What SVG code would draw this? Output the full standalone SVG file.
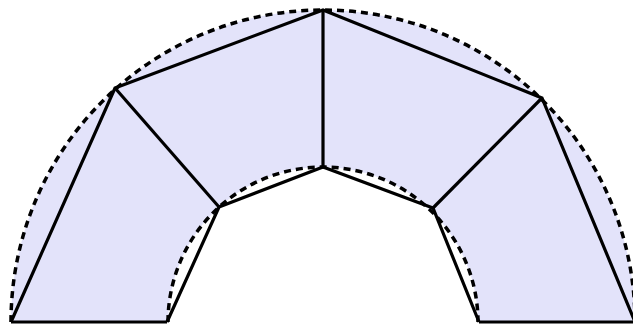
<svg xmlns="http://www.w3.org/2000/svg" width="633" height="324" viewBox="0 0 633 324">
  <style>
    .fill { fill: #e3e3fa; stroke: none; }
    .dash { fill: none; stroke: #000; stroke-width: 3.5; stroke-dasharray: 7 5; }
    .edge { fill: none; stroke: #000; stroke-width: 3.2; stroke-linejoin: miter; stroke-linecap: butt; }
  </style>
  <rect x="0" y="0" width="633" height="324" fill="#fff"/>
  <g id="annulus">
    <path class="fill" d="M 11 322 A 312 312 0 0 1 635 322 L 478 322 A 155 155 0 0 0 168 322 Z"/>
  </g>
  <g id="circles">
    <path class="dash" d="M 11 322 A 312 312 0 0 1 635 322"/>
    <path class="dash" d="M 168 322 A 155 155 0 0 1 478 322"/>
  </g>
  <g id="edges">
    <polyline class="edge" points="11,322 115,88 323,10 542,98 635,322"/>
    <polyline class="edge" points="167,322 219,207 323,167 433,208 479,322"/>
    <line class="edge" x1="115" y1="88" x2="219" y2="207"/>
    <line class="edge" x1="323" y1="10" x2="323" y2="167"/>
    <line class="edge" x1="542" y1="98" x2="433" y2="208"/>
    <line class="edge" x1="11" y1="322" x2="167" y2="322"/>
    <line class="edge" x1="479" y1="322" x2="635" y2="322"/>
  </g>
</svg>
